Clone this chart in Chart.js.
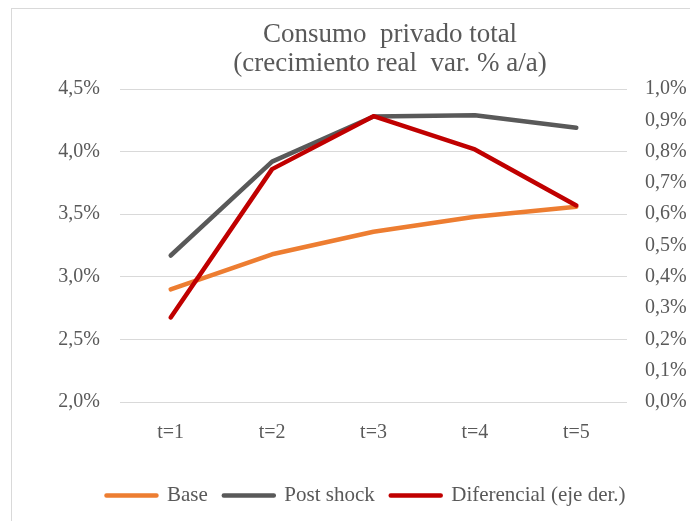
<!DOCTYPE html>
<html>
<head>
<meta charset="utf-8">
<script src="https://cdn.jsdelivr.net/npm/chart.js@4/dist/chart.umd.min.js"></script>
<style>
    body { margin: 0; background: #fff; overflow: hidden; }
    #wrap { position: relative; width: 690px; height: 521px; }
    #frame { position: absolute; left: 11px; top: 8px; width: 700px; height: 540px; border-left: 1px solid #d9d9d9; border-top: 1px solid #d9d9d9; pointer-events: none; }
</style>
</head>
<body>
<div id="wrap">
    <canvas id="chart"></canvas>
    <div id="frame"></div>
</div>
<script>
const categories = ['t=1', 't=2', 't=3', 't=4', 't=5'];
const baseValues = [2.90, 3.18, 3.36, 3.48, 3.56];
const postShockValues = [3.17, 3.92, 4.28, 4.29, 4.19];
const diferencialValues = [0.27, 0.744, 0.913, 0.807, 0.628];
const titleLines = ['Consumo  privado total', '(crecimiento real  var. % a/a)'];

const serif = "'Liberation Serif', 'Times New Roman', serif";
Chart.defaults.font.family = serif;
Chart.defaults.color = '#595959';

function pct(value){
    return value.toFixed(1).replace('.', ',') + '%';
}

// title is drawn by hand so it can sit off-centre like the original
const titlePlugin = {
    id: 'titleText',
    afterDraw(chart){
        const ctx = chart.ctx;
        ctx.save();
        ctx.fillStyle = '#595959';
        ctx.font = '27px ' + serif;
        ctx.textAlign = 'center';
        ctx.textBaseline = 'alphabetic';
        ctx.fillText(titleLines[0], 390, 42);
        ctx.fillText(titleLines[1], 390, 71);
        ctx.restore();
    }
};

// nudge the legend box to where excel put it
const legendShift = {
    id: 'legendShift',
    afterLayout(chart){
        const lg = chart.legend;
        lg.left += 21; lg.right += 21;
        lg.top += 13; lg.bottom += 13;
    }
};

const ctx = document.getElementById('chart').getContext('2d');
new Chart(ctx, {
    type: 'line',
    data: {
        labels: categories,
        datasets: [{
            label: 'Base',
            data: baseValues,
            borderColor: '#ED7D31',
            backgroundColor: '#ED7D31',
            yAxisID: 'y',
            order: 2
        }, {
            label: 'Post shock',
            data: postShockValues,
            borderColor: '#595959',
            backgroundColor: '#595959',
            yAxisID: 'y',
            order: 1
        }, {
            label: 'Diferencial (eje der.)',
            data: diferencialValues,
            borderColor: '#C00000',
            backgroundColor: '#C00000',
            yAxisID: 'y1',
            order: 0
        }]
    },
    options: {
        responsive: true,
        maintainAspectRatio: false,
        animation: false,
        elements: {
            line: { borderWidth: 4.5, tension: 0, borderCapStyle: 'round', borderJoinStyle: 'round' },
            point: { radius: 0 }
        },
        layout: { padding: { top: 89, bottom: 18, left: 0, right: 0 } },
        plugins: {
            title: { display: false },
            tooltip: { enabled: false },
            legend: {
                position: 'bottom',
                labels: {
                    boxWidth: 50,
                    boxHeight: 0,
                    padding: 16,
                    color: '#595959',
                    font: { size: 21 },
                    sort: (a, b) => a.datasetIndex - b.datasetIndex
                }
            }
        },
        scales: {
            x: {
                offset: true,
                grid: { display: false },
                border: { display: false },
                ticks: { padding: 11, font: { size: 20 }, color: '#595959' }
            },
            y: {
                position: 'left',
                min: 2,
                max: 4.5,
                grid: { color: '#d9d9d9', lineWidth: 1, drawTicks: false },
                border: { display: false },
                ticks: { stepSize: 0.5, padding: 20, font: { size: 20 }, color: '#595959', callback: v => pct(v) },
                afterFit: scale => { scale.width = 120; }
            },
            y1: {
                position: 'right',
                min: 0,
                max: 1,
                grid: { display: false, drawTicks: false },
                border: { display: false },
                ticks: { stepSize: 0.1, padding: 18, font: { size: 20 }, color: '#595959', callback: v => pct(v) },
                afterFit: scale => { scale.width = 63; }
            }
        }
    },
    plugins: [titlePlugin, legendShift]
});
</script>
</body>
</html>
